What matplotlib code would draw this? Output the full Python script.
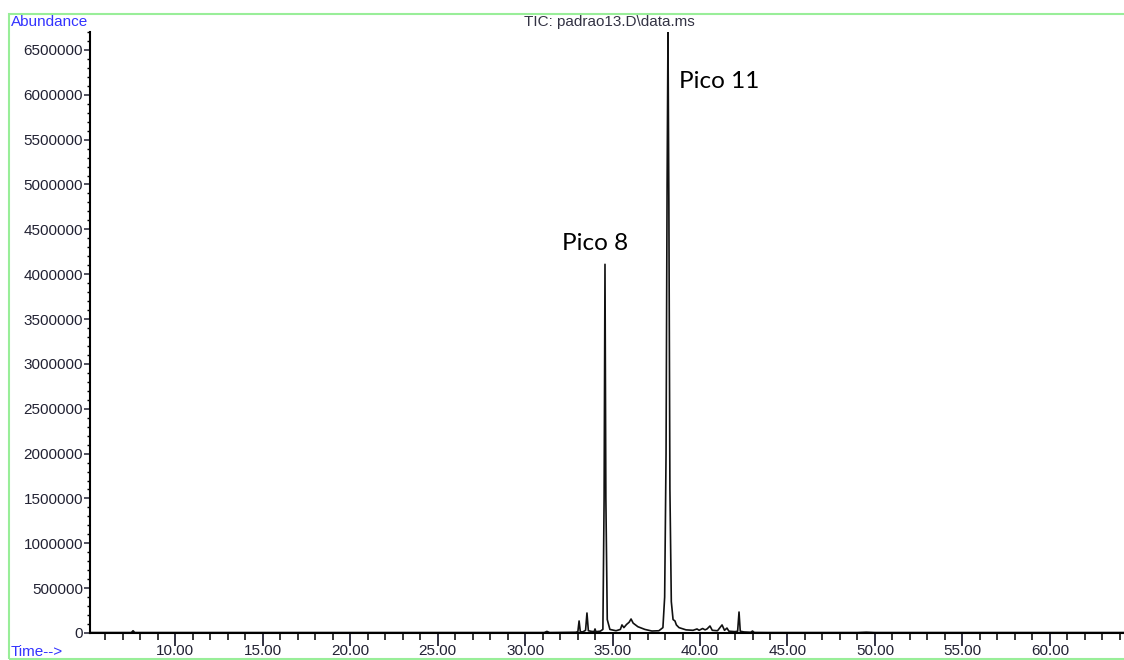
import matplotlib
matplotlib.use("Agg")
import matplotlib.pyplot as plt
from matplotlib.patches import Rectangle
from matplotlib.ticker import MultipleLocator, FormatStrFormatter

# TIC trace (retention time in min, abundance)
time_min = [
    5.14, 7.50, 7.60, 7.70, 31.10, 31.25, 31.40, 32.90, 33.02, 33.09,
    33.16, 33.30, 33.46, 33.54, 33.62, 33.80, 33.95, 34.00, 34.05, 34.30,
    34.45, 34.52, 34.57, 34.62, 34.70, 34.85, 35.20, 35.45, 35.54, 35.65,
    35.80, 35.95, 36.06, 36.18, 36.45, 36.85, 37.25, 37.65, 37.88, 37.98,
    38.06, 38.12, 38.17, 38.22, 38.28, 38.36, 38.46, 38.57, 38.65, 38.80,
    39.20, 39.60, 39.83, 39.95, 40.15, 40.29, 40.40, 40.57, 40.70, 41.00,
    41.26, 41.40, 41.54, 41.65, 42.00, 42.15, 42.23, 42.30, 42.50, 42.90,
    43.00, 43.10, 44.00, 49.00, 49.50, 50.00, 64.23,
]
abundance = [
    5000, 5000, 25000, 5000, 5000, 18000, 5000, 8000, 15000, 134000,
    15000, 12000, 30000, 223000, 25000, 18000, 15000, 45000, 15000, 20000,
    40000, 1500000, 4110000, 1500000, 150000, 40000, 25000, 40000, 90000, 60000,
    95000, 120000, 156000, 110000, 70000, 40000, 22000, 25000, 60000, 400000,
    2000000, 5000000, 6700000, 4800000, 1600000, 350000, 150000, 134000, 90000, 60000,
    35000, 30000, 45000, 30000, 50000, 35000, 45000, 78000, 30000, 25000,
    90000, 30000, 55000, 20000, 15000, 20000, 234000, 20000, 12000, 8000,
    22000, 6000, 5000, 5000, 9000, 5000, 5000,
]

peak_labels = ["Pico 8", "Pico 11"]
peak_label_pos = [(34.0, 4230000), (41.1, 6030000)]

x_range = (5.14, 64.23)
y_top = 6700000

W, H = 1124, 660
fig = plt.figure(figsize=(W / 100, H / 100), dpi=100)

# axes box in pixel units: left 90, right 1124, top 32, bottom 633
ax = fig.add_axes([90 / W, 1 - 633 / H, (1124 - 90) / W, (633 - 32) / H])
ax.plot(time_min, abundance, color="#111111", lw=1.2)
ax.set_xlim(*x_range)
ax.set_ylim(0, y_top)

for side in ("top", "right"):
    ax.spines[side].set_visible(False)
for side in ("left", "bottom"):
    ax.spines[side].set_linewidth(1.5)

tick_col = "#222233"
ax.xaxis.set_major_locator(MultipleLocator(5))
ax.xaxis.set_minor_locator(MultipleLocator(1))
ax.xaxis.set_major_formatter(FormatStrFormatter("%.2f"))
ax.yaxis.set_major_locator(MultipleLocator(500000))
ax.yaxis.set_minor_locator(MultipleLocator(100000))
ax.yaxis.set_major_formatter(FormatStrFormatter("%d"))
ax.tick_params(axis="x", which="major", length=9, width=1.3, labelsize=11,
               colors=tick_col, pad=-1)
ax.tick_params(axis="x", which="minor", length=5, width=1.1)
ax.tick_params(axis="y", which="major", length=4, width=1.1, labelsize=11,
               colors=tick_col, pad=1)
ax.tick_params(axis="y", which="minor", length=2, width=1.0)
for lbl in ax.get_xticklabels() + ax.get_yticklabels():
    lbl.set_family("Liberation Sans")

for text, (tx, ty) in zip(peak_labels, peak_label_pos):
    ax.text(tx, ty, text, ha="center", va="bottom", fontsize=17.5,
            family="Lato", color="black")

# green outer frame
fig.patches.append(Rectangle((9 / W, 1 / H), 1.2, (659 - 14) / H,
                             transform=fig.transFigure, fill=False,
                             edgecolor="#99ee99", lw=1.5))

fig.text(11 / W, 1 - 22 / H, "Abundance", color="#3333ff", fontsize=11,
         family="Liberation Sans", ha="left", va="center")
fig.text(11 / W, 1 - 652 / H, "Time-->", color="#3333ff", fontsize=11,
         family="Liberation Sans", ha="left", va="center")
fig.text(609 / W, 1 - 22 / H, "TIC: padrao13.D\\data.ms", color="#333344",
         fontsize=11, family="Liberation Sans", ha="center", va="center")

fig.savefig("out.png", dpi=100)
